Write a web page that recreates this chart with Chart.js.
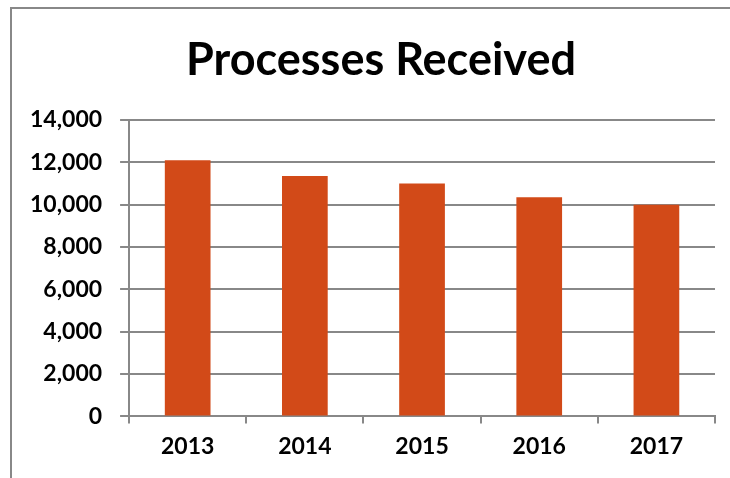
<!DOCTYPE html>
<html>
<head>
<meta charset="utf-8">
<script src="https://cdn.jsdelivr.net/npm/chart.js@4"></script>
<style>
  html, body { margin: 0; padding: 0; background: #fff; overflow: hidden; }
  #box { position: absolute; left: 10px; top: 7px; width: 740px; height: 480px;
         border-left: 2px solid #888; border-top: 2px solid #888; }
  #wrap { position: absolute; left: 0; top: 0; width: 740px; height: 469px; }
</style>
</head>
<body>
<div id="box"><div id="wrap"><canvas id="chart"></canvas></div></div>
<script>
const titleText = 'Processes Received';
const years = ['2013', '2014', '2015', '2016', '2017'];
const processes = [12100, 11350, 11000, 10350, 10000];
const yTicks = [0, 2000, 4000, 6000, 8000, 10000, 12000, 14000];

// title centred on the whole chart box, like the spreadsheet does
const boxTitle = {
    id: 'boxTitle',
    afterDraw(chart) {
        const c = chart.ctx;
        c.save();
        c.font = 'bold 45px Lato';
        c.fillStyle = '#000';
        c.textAlign = 'center';
        c.textBaseline = 'alphabetic';
        c.fillText(titleText, chart.width / 2 - 1, 66);
        c.restore();
    }
};

const ctx = document.getElementById('chart').getContext('2d');
new Chart(ctx, {
    type: 'bar',
    data: {
        labels: years,
        datasets: [{
            label: titleText,
            data: processes,
            backgroundColor: '#d24a18',
            barPercentage: 0.39,
            categoryPercentage: 1
        }]
    },
    options: {
        responsive: true,
        maintainAspectRatio: false,
        animation: false,
        layout: { padding: { left: 0, right: 37, top: 111, bottom: 9 } },
        plugins: {
            legend: { display: false },
            tooltip: { enabled: false },
            title: { display: false }
        },
        scales: {
            x: {
                offset: true,
                grid: { offset: true, drawOnChartArea: false, drawTicks: true, tickLength: 7, color: '#888', lineWidth: 2 },
                border: { color: '#888', width: 2 },
                ticks: { color: '#000', font: { family: 'Lato', size: 23, weight: 'bold' }, padding: 9 }
            },
            y: {
                min: 0,
                max: 14000,
                afterBuildTicks: axis => { axis.ticks = yTicks.map(v => ({ value: v })); },
                grid: { color: '#888', lineWidth: 2, tickLength: 9 },
                border: { color: '#888', width: 2 },
                ticks: {
                    color: '#000',
                    font: { family: 'Lato', size: 23, weight: 'bold' },
                    padding: 18,
                    callback: v => v.toLocaleString('en-US')
                }
            }
        }
    },
    plugins: [boxTitle]
});
</script>
</body>
</html>
